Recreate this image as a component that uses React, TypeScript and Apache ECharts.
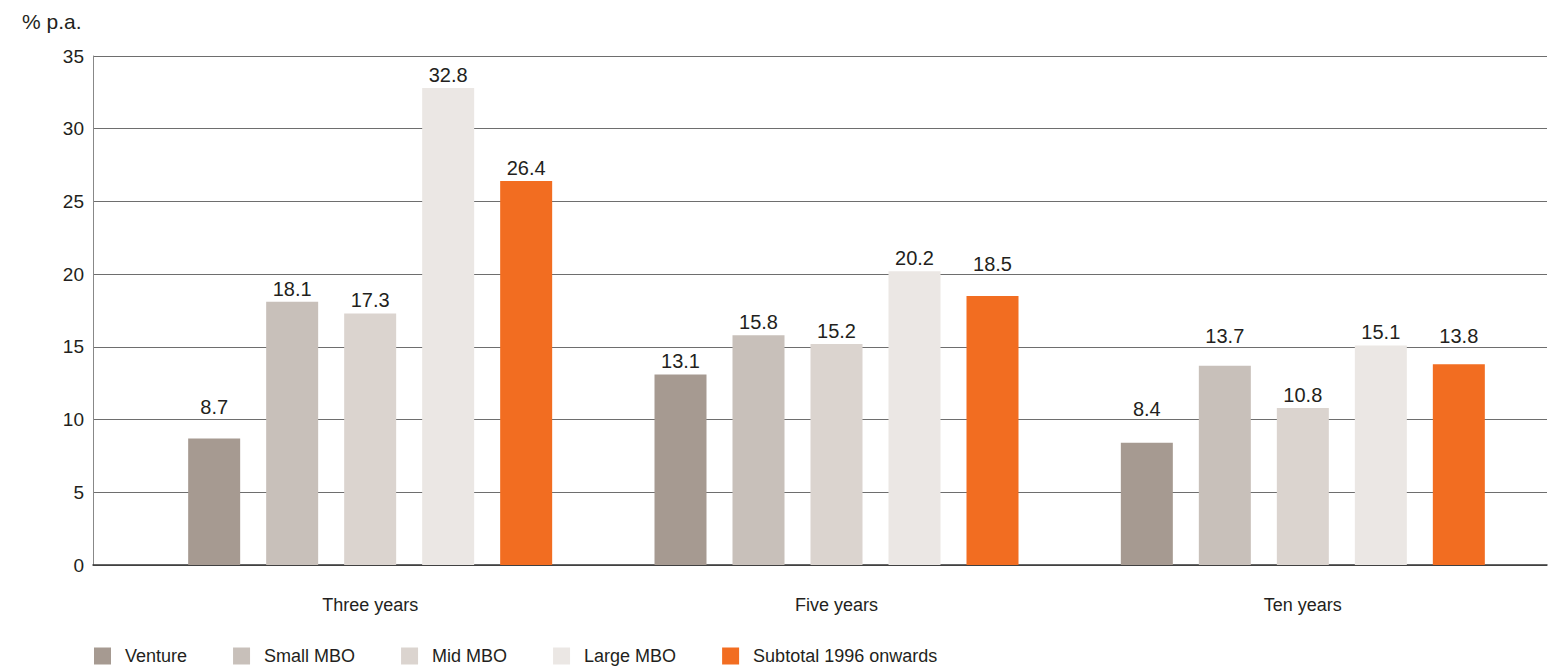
import React, { useEffect, useRef } from "react";
import * as echarts from "echarts";

const categories = ["Three years", "Five years", "Ten years"];
const seriesNames = ["Venture", "Small MBO", "Mid MBO", "Large MBO", "Subtotal 1996 onwards"];
const venture = [8.7, 13.1, 8.4];
const smallMBO = [18.1, 15.8, 13.7];
const midMBO = [17.3, 15.2, 10.8];
const largeMBO = [32.8, 20.2, 15.1];
const subtotal = [26.4, 18.5, 13.8];
const yTicks = [0, 5, 10, 15, 20, 25, 30, 35];

const colors = ["#a69a91", "#c8c0ba", "#dbd4cf", "#ebe7e4", "#f26d21"];
const FONT = "Liberation Sans, Arial, Helvetica, sans-serif";

// extra label lift (px) where original labels sit above a gridline
const labelLift: Record<string, number[]> = {
  Venture: [18, 0, 21],
  "Small MBO": [0, 0, 17],
  "Mid MBO": [0, 0, 0],
  "Large MBO": [0, 0, 0],
  "Subtotal 1996 onwards": [0, 19, 15],
};

export default function App() {
  const ref = useRef<HTMLDivElement>(null);
  useEffect(() => {
    document.body.style.margin = "0";
    if (!ref.current) return;
    const chart = echarts.init(ref.current, undefined, { renderer: "svg" });
    const all = [venture, smallMBO, midMBO, largeMBO, subtotal];
    const series: any[] = all.map((vals, i) => ({
      name: seriesNames[i],
      type: "bar",
      xAxisIndex: 1,
      yAxisIndex: 1,
      barWidth: 52,
      barGap: "50%",
      itemStyle: { color: colors[i] },
      data: vals.map((v, j) => ({
        value: v,
        label: { offset: [0, -labelLift[seriesNames[i]][j]] },
      })),
      label: {
        show: true,
        position: "top",
        distance: 3,
        fontSize: 20,
        fontFamily: FONT,
        color: "#231f20",
        formatter: (p: any) => Number(p.value).toFixed(1),
      },
    }));
    const yMax = yTicks[yTicks.length - 1];
    chart.setOption({
      animation: false,
      textStyle: { fontFamily: FONT },
      title: {
        text: "% p.a.",
        left: 17,
        top: 6,
        textStyle: { fontSize: 21, fontWeight: "normal", color: "#231f20", fontFamily: FONT },
      },
      legend: {
        left: 94,
        top: 647,
        padding: 0,
        itemWidth: 17,
        itemHeight: 17,
        itemGap: 46,
        icon: "rect",
        textStyle: { fontSize: 18, color: "#231f20", fontFamily: FONT, padding: [0, 0, 0, 9] },
        data: seriesNames,
      },
      grid: [
        { left: 93, right: 8, top: 56, bottom: 106 },
        { left: 137, right: 19, top: 56, bottom: 106 },
      ],
      xAxis: [
        {
          type: "category",
          gridIndex: 0,
          data: [""],
          axisLine: { show: true, lineStyle: { color: "#333", width: 1.5 } },
          axisTick: { show: false },
          axisLabel: { show: false },
        },
        {
          type: "category",
          gridIndex: 1,
          data: categories,
          axisLine: { show: false },
          axisTick: { show: false },
          axisLabel: { fontSize: 18, color: "#231f20", margin: 31, fontFamily: FONT },
        },
      ],
      yAxis: [
        {
          type: "value",
          gridIndex: 0,
          min: 0,
          max: yMax,
          interval: 5,
          axisLine: { show: true, lineStyle: { color: "#888", width: 1 } },
          axisTick: { show: false },
          axisLabel: { fontSize: 19, color: "#231f20", margin: 9, fontFamily: FONT },
          splitLine: { show: true, lineStyle: { color: "#6e6e6e", width: 1 } },
        },
        {
          type: "value",
          gridIndex: 1,
          min: 0,
          max: yMax,
          interval: 5,
          show: false,
          splitLine: { show: false },
        },
      ],
      series,
    });
    return () => chart.dispose();
  }, []);
  return <div ref={ref} style={{ width: 1555, height: 671 }} />;
}
